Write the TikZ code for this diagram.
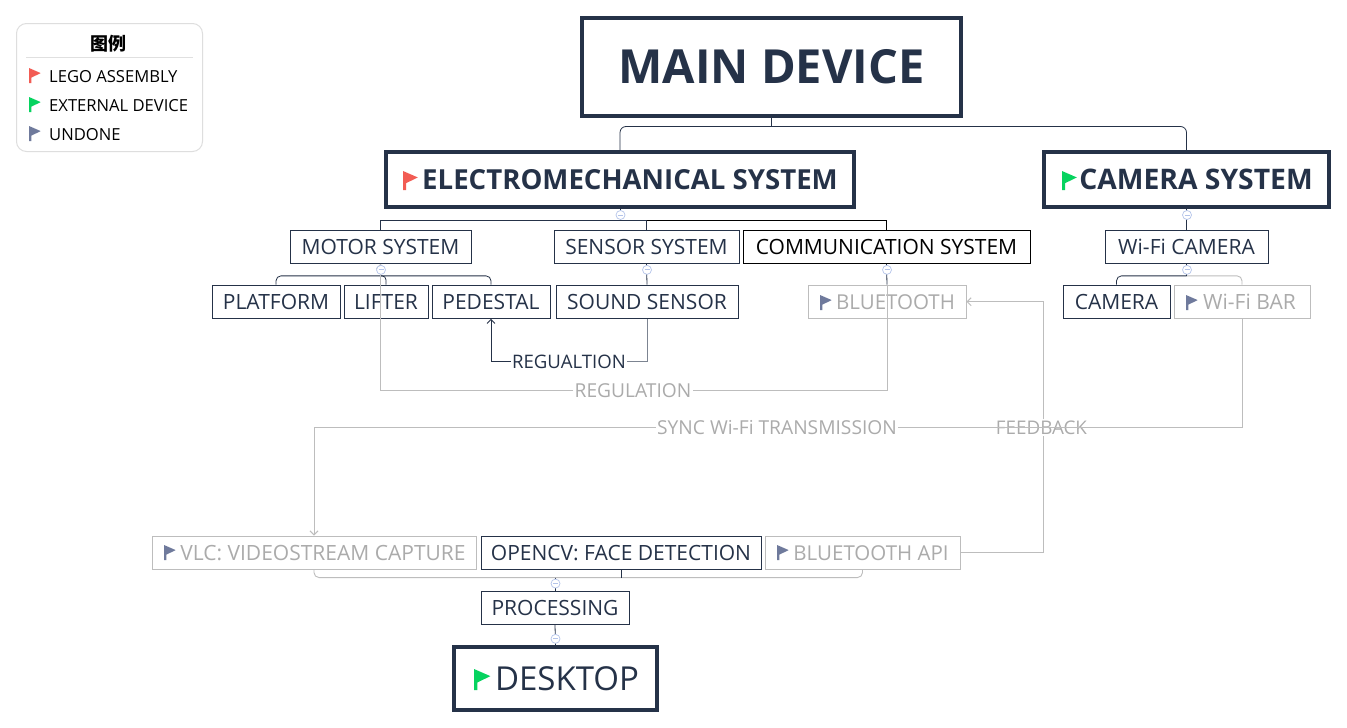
\documentclass[tikz,border=0pt]{standalone}
\usepackage{fontspec}
\setmainfont{Open Sans}
\newfontfamily\cjkfont{Noto Sans CJK SC}
\usetikzlibrary{arrows.meta,calc}
\definecolor{navy}{HTML}{253248}
\definecolor{ghost}{HTML}{ABABAB}
\definecolor{ghostline}{HTML}{BDBDBD}
\definecolor{flagred}{HTML}{F25C54}
\definecolor{flaggreen}{HTML}{06D35F}
\definecolor{flaggray}{HTML}{6F7A9C}
\definecolor{collapseblue}{HTML}{B4C4EA}
\tikzset{
  x=1pt,y=-1pt,
  boxbase/.style={rectangle,inner sep=0pt,fill=white,align=center},
  sub/.style={boxbase,draw=navy,line width=0.9pt,text=navy,font=\fontsize{21}{25}\selectfont},
  subblack/.style={sub,draw=black,text=black},
  subghost/.style={sub,draw=ghostline,text=ghost},
  major/.style={boxbase,draw=navy,line width=4pt,text=navy,font=\fontsize{27.6}{32}\selectfont\bfseries},
  lbl/.style={inner sep=1pt,font=\fontsize{19.2}{23}\selectfont},
  lblnavy/.style={lbl,text=navy,font=\fontsize{18.6}{23}\selectfont},
  lblghost/.style={lbl,text=ghost},
  tree/.style={draw=navy,line width=0.8pt},
  treeghost/.style={draw=ghostline,line width=0.9pt},
  relghost/.style={draw=ghostline,line width=1pt,-{Straight Barb[length=4pt,width=8pt]}},
  relghostplain/.style={draw=ghostline,line width=1pt},
  collapse/.style={circle,draw=collapseblue,fill=white,line width=0.7pt,minimum size=9pt,inner sep=0pt,
    path picture={\draw[draw=collapseblue,line width=0.8pt] ($(path picture bounding box.west)+(2,0)$) -- ($(path picture bounding box.east)+(-2,0)$);}},
  legtext/.style={anchor=west,inner sep=0pt,text=black,font=\fontsize{16.6}{20}\selectfont},
}
% \bx{name}{x1}{y1}{x2}{y2}{style}{text}
\newcommand{\bx}[7]{\node[#6,minimum width={(#4)-(#2)},minimum height={(#5)-(#3)}] (#1) at ({((#2)+(#4))/2},{((#3)+(#5))/2}) {#7};}
\newcommand{\sbx}[7]{\bx{#1}{#2}{#3}{(#4)-1}{(#5)-0.6}{#6}{#7}}
% \flagmark{x}{y}{h}{colour}
\newcommand{\flagmark}[4]{\fill[#4] (#1,#2) -- ++({0.78*(#3)},{0.34*(#3)}) -- ++({-0.62*(#3)},{0.30*(#3)}) -- ++(0,{0.36*(#3)}) -- ++({-0.16*(#3)},0) -- cycle;}
\begin{document}
\begin{tikzpicture}
\useasboundingbox (0,0) rectangle (1347,728);
\fill[white] (0,0) rectangle (1347,728);

% legend
\node[rectangle,rounded corners=10pt,draw=black!13,line width=1pt,fill=white,minimum width=186pt,minimum height=128pt,inner sep=0pt] (legend) at (109.5,87.5) {};
\node[inner sep=0pt,text=black,font=\cjkfont\bfseries\fontsize{18}{21}\selectfont] (legtitle) at (108,43.5) {图例};
\coordinate (rulel) at (26,57.5);
\coordinate (ruler) at (193,57.5);
\draw[black!12,line width=0.8pt] (rulel) -- (ruler);
\node[legtext] (leg1) at (49,76.5) {LEGO ASSEMBLY};
\node[legtext] (leg2) at (49,105.5) {EXTERNAL DEVICE};
\node[legtext] (leg3) at (49,134.5) {UNDONE};
\flagmark{29}{68}{15}{flagred}
\flagmark{29}{97}{15}{flaggreen}
\flagmark{29}{126}{15}{flaggray}

% major boxes
\bx{main}{582}{18}{961}{116}{major,font=\fontsize{47}{55}\selectfont\bfseries}{MAIN DEVICE}
\bx{elec}{386}{152}{854}{207}{major}{\hspace*{20pt}ELECTROMECHANICAL SYSTEM}
\bx{cam}{1044}{152}{1329}{207}{major,font=\fontsize{28.3}{33}\selectfont\bfseries}{\hspace*{19pt}CAMERA SYSTEM}
\bx{desk}{454}{647}{657}{710}{major,font=\fontsize{33}{38}\selectfont}{\hspace*{23pt}DESKTOP}

% second level
\sbx{motor}{290}{230}{472}{264}{sub}{MOTOR SYSTEM}
\sbx{sensor}{554}{230}{740}{264}{sub}{SENSOR SYSTEM}
\sbx{comm}{743}{230}{1031}{264}{subblack}{COMMUNICATION SYSTEM}
\sbx{wifi}{1105}{230}{1269}{264}{sub}{Wi-Fi CAMERA}

% third level
\sbx{platform}{212}{285}{341}{319}{sub}{PLATFORM}
\sbx{lifter}{344}{285}{429}{319}{sub}{LIFTER}
\sbx{pedestal}{432}{285}{551}{319}{sub}{PEDESTAL}
\sbx{sound}{556}{285}{739}{319}{sub}{SOUND SENSOR}
\sbx{blue}{808}{285}{967}{319}{subghost,font=\fontsize{20.5}{25}\selectfont}{\hspace*{17pt}BLUETOOTH}
\sbx{camera}{1063}{285}{1171}{319}{sub}{CAMERA}
\sbx{bar}{1174}{285}{1311}{319}{subghost}{\hspace*{15pt}Wi-Fi BAR}

% bottom
\sbx{vlc}{152}{536}{477}{570}{subghost}{\hspace*{18pt}VLC: VIDEOSTREAM CAPTURE}
\sbx{opencv}{481}{536}{762}{570}{sub}{OPENCV: FACE DETECTION}
\sbx{api}{765}{536}{961}{570}{subghost,font=\fontsize{20.5}{25}\selectfont}{\hspace*{17pt}BLUETOOTH API}
\sbx{proc}{481}{591}{630}{625}{sub}{PROCESSING}

% flags
\flagmark{403}{171}{19}{flagred}
\flagmark{1062}{171}{19}{flaggreen}
\flagmark{474}{669}{21}{flaggreen}
\flagmark{820}{295}{15}{flaggray}
\flagmark{1186}{295}{15}{flaggray}
\flagmark{164}{545}{15}{flaggray}
\flagmark{777}{545}{15}{flaggray}

% junctions
\coordinate (mj) at ($(main.south)+(0,8.5)$);
\coordinate (ej) at ($(elec.south)+(0,11.5)$);
\coordinate (oj) at ($(motor.south)+(0,12)$);
\coordinate (wj) at ($(wifi.south)+(0,12)$);
\coordinate (pj) at ($(proc.north)+(0,-13)$);

% tree connectors
\draw[tree] (main.south) -- (mj);
\draw[tree,rounded corners=6pt] (elec.north) -- (elec.north |- mj) -- (cam.north |- mj) -- (cam.north);
\draw[tree] (elec.south) -- (ej);
\draw[tree] (motor.north) -- (motor.north |- ej) -- (ej -| sensor.north) -- (sensor.north);
\draw[tree,draw=black] (ej -| sensor.north) -- (ej -| comm.north) -- (comm.north);
\draw[tree] (cam.south) -- (wifi.north);
\draw[tree,rounded corners=5pt] (platform.north) -- (platform.north |- oj) -- (pedestal.north |- oj) -- (pedestal.north);
\draw[tree,rounded corners=4pt] (oj) -| (lifter.north);
\draw[tree] (motor.south) -- (oj);
\draw[tree] (sensor.south) -- (sound.north);
\draw[tree] (comm.south) -- (blue.north);
\draw[treeghost,rounded corners=5pt] (wj) -| (bar.north);
\draw[tree,rounded corners=5pt] (wj) -| (camera.north);
\draw[tree] (wifi.south) -- (wj);
\draw[treeghost,rounded corners=5pt] (vlc.south) -- (vlc.south |- pj) -- (api.south |- pj) -- (api.south);
\draw[tree] (opencv.south) -- (opencv.south |- pj);
\draw[tree] (pj) -- (proc.north);
\draw[tree] (proc.south) -- (desk.north);

% relation labels
\node[lblghost] (reg) at (633,390.5) {REGULATION};
\node[lblnavy] (rgl) at (569,361.5) {REGUALTION};
\node[lblghost] (sync) at (777,427.5) {SYNC Wi-Fi TRANSMISSION};
\node[lblghost,font=\fontsize{18.8}{23}\selectfont] (fb) at (1041.5,427.5) {FEEDBACK};

% relations
\draw[relghostplain] (blue.north) |- (reg.east);
\draw[relghost] (reg.west) -| (motor.south);
\draw[draw=navy!60,line width=1pt] (sound.south) |- (rgl.east);
\draw[draw=navy,line width=0.9pt,-{Straight Barb[length=4pt,width=8pt]}] (rgl.west) -| (pedestal.south);
\draw[relghostplain] (api.east) -| ($(fb.south)+(1.5,0)$);
\draw[relghost] ($(fb.north)+(1.5,0)$) |- (blue.east);
\draw[relghostplain] (bar.south) |- (sync.east);
\draw[relghost] (sync.west) -| (vlc.north);

% collapse markers
\node[collapse] (c1) at ($(elec.south)+(0.5,6)$) {};
\node[collapse] (c2) at ($(cam.south)+(0.5,6)$) {};
\node[collapse] (c3) at ($(motor.south)+(0.5,6)$) {};
\node[collapse] (c4) at ($(sensor.south)+(0.5,6)$) {};
\node[collapse] (c5) at ($(comm.south)+(0.5,6)$) {};
\node[collapse] (c6) at ($(wifi.south)+(0.5,6)$) {};
\node[collapse] (c7) at ($(proc.north)+(0.5,-7)$) {};
\node[collapse] (c8) at ($(proc.south)+(0.5,14)$) {};
\end{tikzpicture}
\end{document}
